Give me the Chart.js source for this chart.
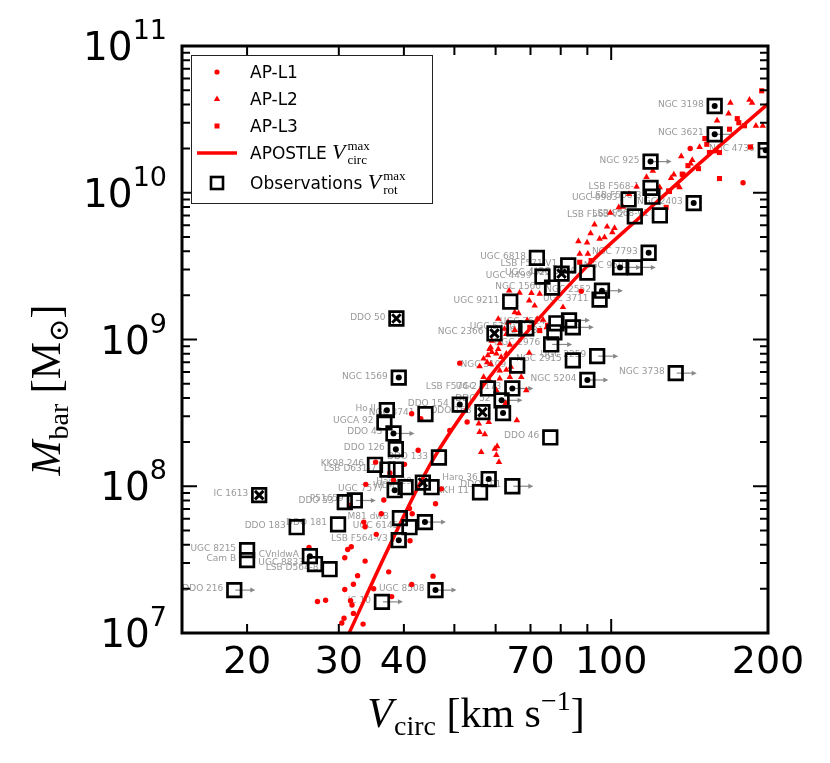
<!DOCTYPE html>
<html>
<head>
<meta charset="utf-8">
<script src="https://cdn.jsdelivr.net/npm/chart.js@4.4.1/dist/chart.umd.min.js"></script>
<style>
  html, body { margin: 0; padding: 0; background: #fff; }
  canvas { display: block; }
</style>
</head>
<body>
<canvas id="btf" width="830" height="763"></canvas>
<script>
// observed galaxies (Vrot max in km/s, baryonic mass in Msun)
const obsName = ['NGC 3198', 'NGC 3621', 'NGC 4736', 'NGC 925', 'LSB F568-1', 'LSB F568-3', 'UGC 6983', 'NGC 2403',
  'LSB F563-V2', 'LSB F568-V1', 'NGC 7793', '', 'NGC 959', 'UGC 5999', 'NGC 2552', 'UGC 3711', '', '',
  'UGC 2259', 'NGC 2915', 'NGC 5204', 'NGC 3738', 'UGC 6818', 'LSB F571-V1', 'UGC 4325', 'UGC 4499',
  'NGC 1560', 'UGC 9211', 'UGC 7524', 'UGC 731', 'NGC 2366', '', 'UGC 5750', 'NGC 2976', 'NGC 3109',
  'LSB F574-2', 'UGC 4173', 'DDO 52', 'DDO 154', 'DDO 168', '', 'NGC 3741', 'DDO 46', 'DDO 133', 'Haro 36',
  'KKH 11', 'DDO 101', 'Haro 29', '', 'WLM', 'UGC 7577', 'IC 1613', 'DDO 53', 'P51659', 'DDO 181', 'DDO 183',
  'UGC 8215', 'Cam B', 'CVnIdwA', 'UGC 8833', 'LSB D564-8', 'DDO 216', 'IC 10', 'UGC 8508', '', 'M81 dwB',
  'UGC 6145', 'LSB F564-V3', 'KK98 246', 'LSB D631-7', '', 'DDO 50', 'NGC 1569', 'Ho II', 'UGCA 92', 'DDO 43', 'DDO 126'];
const obsV = [158, 158, 198, 119, 119, 120, 108, 144,
  111, 124, 118, 104, 111, 90, 96, 95, 83, 84.4,
  94, 84.4, 90, 133, 72, 82.7, 80.3, 73.8,
  77, 64, 78.5, 77.8, 59.7, 65.2, 68.7, 76.7, 66,
  58, 64.6, 61.6, 51.2, 56.6, 62, 44, 76.4, 46.7, 58.2,
  56, 64.6, 43.5, 45.2, 40.3, 38.4, 21.1, 30.8, 32.2, 29.9, 24.9,
  20, 20, 26.4, 27, 28.8, 18.9, 36.3, 46, 43.9, 39.3,
  41, 39.1, 35.2, 37.2, 38.6, 38.7, 39.1, 37.1, 36.7, 38.2, 38.6];
const obsM = [3.9e10, 2.5e10, 1.95e10, 1.63e10, 1.08e10, 9.4e9, 9.0e9, 8.5e9,
  6.9e9, 7.0e9, 3.9e9, 3.1e9, 3.1e9, 2.86e9, 2.15e9, 1.87e9, 1.35e9, 1.21e9,
  7.7e8, 7.2e8, 5.3e8, 5.9e8, 3.6e9, 3.2e9, 2.81e9, 2.68e9,
  2.26e9, 1.81e9, 1.29e9, 1.12e9, 1.1e9, 1.19e9, 1.19e9, 9.25e8, 6.65e8,
  4.64e8, 4.64e8, 3.85e8, 3.6e8, 3.2e8, 3.15e8, 3.1e8, 2.15e8, 1.57e8, 1.12e8,
  9.1e7, 1.0e8, 1.06e8, 9.85e7, 9.85e7, 9.4e7, 8.7e7, 7.8e7, 8.0e7, 5.5e7, 5.26e7,
  3.67e7, 3.14e7, 3.34e7, 2.95e7, 2.72e7, 1.96e7, 1.63e7, 1.96e7, 5.7e7, 6.06e7,
  5.26e7, 4.29e7, 1.4e8, 1.3e8, 1.3e8, 1.39e9, 5.5e8, 3.3e8, 2.72e8, 2.29e8, 1.79e8];
const obsMark = ['dot', 'dot', 'dot', 'dot', '', '', '', 'dot',
  '', '', 'dot', 'dot', '', '', 'dot', '', '', '',
  '', '', 'dot', '', '', '', 'x', '',
  '', '', '', '', 'x', '', '', '', '',
  '', 'dot', 'dot', 'dot', 'x', 'dot', '', '', '', 'dot',
  '', '', 'x', '', '', 'dot', 'x', '', '', '', '',
  '', '', 'dot', '', '', '', '', 'dot', 'dot', '',
  '', 'dot', '', '', '', 'x', 'dot', 'dot', '', 'dot', 'dot'];
const obsArrow = [0, 1, 0, 1, 0, 0, 0, 0,
  0, 0, 0, 1, 1, 0, 1, 0, 1, 1,
  1, 0, 1, 1, 0, 0, 0, 0,
  0, 0, 0, 0, 0, 0, 0, 1, 0,
  0, 1, 1, 0, 0, 0, 0, 0, 0, 0,
  0, 1, 0, 0, 0, 0, 0, 0, 1, 0, 0,
  0, 0, 0, 0, 0, 1, 1, 1, 1, 0,
  0, 0, 0, 0, 0, 0, 0, 0, 0, 1, 0];

// APOSTLE galaxies, three resolution levels
const l1V = [141.8, 179.1, 87.6, 51.2, 49, 52.9, 41.4, 43.1, 42.6, 40.1, 47.2, 46, 41,
  35.3, 37.6, 38.2, 33.8, 31.5, 33.7, 36.6, 36.2, 41.5, 33.5, 35.4, 41.1, 31.2, 31.7, 30.8,
  33.7, 37.4, 32.6, 32, 30.8, 35, 37.9, 41.4, 45.5, 27.3, 28.3, 31.6, 31.8, 32, 30.7, 30.4, 33.4, 26.3];
const l1M = [2.0e10, 1.17e10, 2.13e9, 6.9e8, 2.4e8, 2.74e8, 3.12e8, 2.89e8, 1.76e8, 1.41e8, 9.6e7, 7.6e7, 7.05e7,
  1.46e8, 1.23e8, 1.1e8, 1.03e8, 7.4e7, 5.3e7, 8.05e7, 6.5e7, 6.5e7, 5.7e7, 4.7e7, 4.25e7, 3.71e7, 3.87e7, 3.26e7,
  3.09e7, 2.61e7, 2.46e7, 2.15e7, 1.98e7, 2.0e7, 1.77e7, 2.14e7, 2.44e7, 1.64e7, 1.67e7, 1.66e7, 1.55e7, 1.36e7, 1.26e7, 1.17e7, 1.15e7, 3.83e7];

const l2V = [169.4, 184.3, 186.4, 168, 159.7, 189.6, 195.4, 147.8, 136.3, 143.1, 142, 131.9, 130.3, 135.3, 123.9, 120.2, 134.2,
  105.3, 98.2, 101.5, 100.5, 91.3, 86.5, 89.9, 95, 97.1, 87, 90.2, 80.8, 103.4,
  92.9, 99.6, 108.2, 111.9, 116.9,
  63.7, 66.7, 70.3, 72.9, 69.6, 71.3, 65.3, 66.4, 60.7, 63.4, 69, 72.1, 74, 75.2, 62.4, 62.9, 65.3,
  59, 61.1, 60.7, 58.4, 59, 56.9, 57.8, 55.9, 58.7, 61.5, 61.1, 63.9, 67.2, 56.9, 61.1,
  55.9, 57.2, 56.3, 59.8, 60.4, 60.2, 60.9, 65.9, 58.2, 55.7, 62.7, 68.7, 64.2, 62.9, 58.4, 60.2,
  69.6, 58.7, 62.9, 58, 60.2, 63.9];
const l2M = [4.1e10, 4.3e10, 4.1e10, 3.46e10, 3.1e10, 2.86e10, 2.86e10, 2.05e10, 1.77e10, 1.67e10, 1.58e10, 1.33e10, 1.26e10, 1.09e10, 1.09e10, 1.41e10, 1.12e10,
  8.0e9, 5.87e9, 5.75e9, 5.38e9, 5.29e9, 4.66e9, 4.58e9, 4.85e9, 4.97e9, 3.83e9, 3.83e9, 1.66e9, 7.95e9,
  6.06e9, 7.3e9, 9.8e9, 1.1e10, 1.28e10,
  2.15e9, 2.08e9, 2.07e9, 2.05e9, 1.84e9, 1.7e9, 1.53e9, 1.51e9, 1.38e9, 1.31e9, 1.35e9, 1.38e9, 1.36e9, 1.21e9, 1.18e9, 1.09e9, 1.16e9,
  9.8e8, 9.4e8, 8.6e8, 8.6e8, 8.2e8, 7.4e8, 7.0e8, 6.55e8, 6.8e8, 7.6e8, 6.15e8, 5.54e8, 5.54e8, 5.54e8, 5.41e8,
  2.34e8, 2.26e8, 1.71e8, 1.8e8, 1.87e8, 1.63e8, 1.46e8, 2.81e8, 2.74e8, 2.67e8, 3.69e8, 4.5e8, 6.5e8, 6.2e8, 5.26e8, 4.5e8,
  8.1e8, 8.85e8, 8.0e8, 7.8e8, 8.0e8, 9.2e8];

const l3V = [174.6, 175.8, 180.3, 168.7, 151.3, 152.6, 161.4, 159, 154.4, 140.4, 147.1, 136.9, 128.9, 161.4, 185.1, 194.5,
  137.3, 129.4, 127.5, 87, 91.5, 72.9, 69.8, 75.5];
const l3M = [3.2e10, 3.0e10, 2.86e10, 2.71e10, 2.34e10, 2.14e10, 1.88e10, 1.93e10, 1.88e10, 1.53e10, 1.46e10, 1.34e10, 1.03e10, 1.25e10, 2.05e10, 4.95e10,
  1.33e10, 1.02e10, 7.95e9, 3.36e9, 3.45e9, 1.15e9, 1.21e9, 1.25e9];

// APOSTLE median relation
const fitV = [31.4, 37.6, 45.4, 55.9, 66.8, 90.9, 113.3, 147.6, 200];
const fitM = [1e7, 3.97e7, 1.5e8, 4.5e8, 9.9e8, 3.29e9, 6.75e9, 1.58e10, 4.03e10];

// axis ticks
const xTicks = [20, 30, 40, 50, 60, 70, 80, 90, 100, 200];
const xTickLabels = ['20', '30', '40', '', '', '70', '', '', '100', '200'];
const yDecades = [7, 8, 9, 10, 11];

const pts = (xs, ys) => xs.map((v, i) => ({x: v, y: ys[i]}));
const obsPts = pts(obsV, obsM);

const RED = '#ff0000';
const SERIF = '"Liberation Serif", "DejaVu Serif", serif';
const SANS = '"DejaVu Sans", sans-serif';

// draws a run of [text, font, dy, gap] pieces starting at x, returns end x
function drawRun(ctx, parts, x, y) {
  parts.forEach(p => {
    ctx.font = p[1];
    ctx.fillText(p[0], x, y + (p[2] || 0));
    x += ctx.measureText(p[0]).width + (p[3] || 0);
  });
  return x;
}
function runWidth(ctx, parts) {
  let w = 0;
  parts.forEach(p => { ctx.font = p[1]; w += ctx.measureText(p[0]).width + (p[3] || 0); });
  return w;
}

const deco = {
  id: 'deco',
  beforeDatasetsDraw(chart) {
    const {ctx, chartArea: a, scales: {x, y}} = chart;
    ctx.save();
    ctx.beginPath();
    ctx.rect(a.left, a.top, a.right - a.left, a.bottom - a.top);
    ctx.clip();
    ctx.font = '9px ' + SANS;
    ctx.textAlign = 'right';
    ctx.textBaseline = 'alphabetic';
    obsName.forEach((n, i) => {
      const px = x.getPixelForValue(obsV[i]);
      const py = y.getPixelForValue(obsM[i]);
      if (n) {
        ctx.fillStyle = '#999';
        ctx.fillText(n, px - 11, py + 1);
      }
      if (obsArrow[i]) {
        ctx.strokeStyle = '#888';
        ctx.fillStyle = '#888';
        ctx.lineWidth = 1.2;
        ctx.beginPath();
        ctx.moveTo(px + 1, py);
        ctx.lineTo(px + 17, py);
        ctx.stroke();
        ctx.beginPath();
        ctx.moveTo(px + 21, py);
        ctx.lineTo(px + 16, py - 2.5);
        ctx.lineTo(px + 16, py + 2.5);
        ctx.closePath();
        ctx.fill();
      }
    });
    ctx.restore();
  },
  afterDraw(chart) {
    const {ctx, chartArea: a, scales: {x, y}} = chart;
    ctx.save();
    ctx.strokeStyle = '#000';
    ctx.lineWidth = 2;
    ctx.beginPath();
    // x ticks, bottom and top
    xTicks.forEach(v => {
      const px = x.getPixelForValue(v);
      const len = v === 100 || v === 200 ? 14 : 9;
      ctx.moveTo(px, a.bottom); ctx.lineTo(px, a.bottom - len);
      ctx.moveTo(px, a.top); ctx.lineTo(px, a.top + len);
    });
    // y ticks, left and right
    yDecades.forEach(d => {
      for (let m = 1; m <= 9; m++) {
        const v = m * Math.pow(10, d);
        if (v > 1e11) break;
        const py = y.getPixelForValue(v);
        const len = m === 1 ? 15 : 8;
        ctx.moveTo(a.left, py); ctx.lineTo(a.left + len, py);
        ctx.moveTo(a.right, py); ctx.lineTo(a.right - len, py);
      }
    });
    ctx.stroke();
    // frame
    ctx.lineWidth = 3;
    ctx.strokeRect(a.left, a.top, a.right - a.left, a.bottom - a.top);

    // x tick labels
    ctx.fillStyle = '#000';
    ctx.textAlign = 'center';
    ctx.textBaseline = 'alphabetic';
    ctx.font = '38px ' + SANS;
    xTicks.forEach((v, i) => {
      if (xTickLabels[i]) ctx.fillText(xTickLabels[i], x.getPixelForValue(v), 673);
    });
    // y tick labels 10^n
    ctx.textAlign = 'left';
    yDecades.forEach(d => {
      const py = y.getPixelForValue(Math.pow(10, d));
      ctx.font = '39px ' + SANS;
      const wb = ctx.measureText('10').width;
      ctx.font = '27px ' + SANS;
      const we = ctx.measureText(String(d)).width;
      const x0 = 167 - we - wb;
      ctx.font = '39px ' + SANS;
      ctx.fillText('10', x0, py + 14);
      ctx.font = '27px ' + SANS;
      ctx.fillText(String(d), x0 + wb, py - 7);
    });

    // x axis title
    const big = '42px ' + SERIF, bigI = 'italic 42px ' + SERIF, sub = '28px ' + SERIF;
    const xt = [['V', bigI, 0, 1], ['circ', sub, 8, 0], [' [km s', big, 0, 0], ['\u22121', sub, -17, 0], [']', big, 0, 0]];
    const xw = runWidth(ctx, xt);
    drawRun(ctx, xt, 476 - xw / 2, 727);

    // y axis title
    ctx.save();
    ctx.translate(60, 390);
    ctx.rotate(-Math.PI / 2);
    const yt = [['M', bigI, 0, 1], ['bar', sub, 8, 0], [' [M', big, 0, 0], ['\u2299', sub, 8, 0], [']', big, 0, 0]];
    const yw = runWidth(ctx, yt);
    drawRun(ctx, yt, -yw / 2, 0);
    ctx.restore();

    // legend
    const lx = 191, ly = 55, lw = 241, lh = 148, mx = 217, tx = 250;
    const rows = [72, 99, 126, 153, 183];
    ctx.fillStyle = '#fff';
    ctx.fillRect(lx, ly, lw, lh);
    ctx.strokeStyle = '#222';
    ctx.lineWidth = 1;
    ctx.strokeRect(lx + 0.5, ly + 0.5, lw, lh);
    ctx.fillStyle = RED;
    ctx.beginPath(); ctx.arc(mx, rows[0], 2.6, 0, Math.PI * 2); ctx.fill();
    ctx.beginPath();
    ctx.moveTo(mx, rows[1] - 3.6); ctx.lineTo(mx + 3.2, rows[1] + 2); ctx.lineTo(mx - 3.2, rows[1] + 2);
    ctx.closePath(); ctx.fill();
    ctx.fillRect(mx - 2.5, rows[2] - 2.5, 5, 5);
    ctx.strokeStyle = RED; ctx.lineWidth = 3.5;
    ctx.beginPath(); ctx.moveTo(197, rows[3]); ctx.lineTo(237, rows[3]); ctx.stroke();
    ctx.strokeStyle = '#000'; ctx.lineWidth = 2.6;
    ctx.strokeRect(mx - 6, rows[4] - 6, 12, 12);

    ctx.fillStyle = '#000';
    ctx.font = '17px ' + SANS;
    ctx.fillText('AP-L1', tx, rows[0] + 6);
    ctx.fillText('AP-L2', tx, rows[1] + 6);
    ctx.fillText('AP-L3', tx, rows[2] + 6);
    const supSub = (x0, yb, top, bot) => {
      ctx.font = '13px ' + SERIF;
      ctx.fillText(top, x0, yb - 9);
      ctx.fillText(bot, x0, yb + 5);
    };
    let ex = drawRun(ctx, [['APOSTLE ', '17px ' + SANS, 0, 0], ['V', 'italic 22px ' + SERIF, 0, 2]], tx, rows[3] + 6);
    supSub(ex, rows[3] + 6, 'max', 'circ');
    ex = drawRun(ctx, [['Observations ', '17px ' + SANS, 0, 0], ['V', 'italic 22px ' + SERIF, 0, 2]], tx, rows[4] + 6);
    supSub(ex, rows[4] + 6, 'max', 'rot');
    ctx.restore();
  }
};

new Chart(document.getElementById('btf'), {
  type: 'scatter',
  data: {
    datasets: [
      {
        label: 'APOSTLE', data: pts(fitV, fitM), showLine: true, order: 3,
        borderColor: RED, borderWidth: 3.5, pointRadius: 0, tension: 0.35, clip: 0
      },
      {
        label: 'AP-L1', data: pts(l1V, l1M), order: 4, pointStyle: 'circle',
        pointRadius: 2.7, backgroundColor: RED, borderWidth: 0, clip: 0
      },
      {
        label: 'AP-L2', data: pts(l2V, l2M), order: 4, pointStyle: 'triangle',
        pointRadius: 3.8, backgroundColor: RED, borderColor: RED, borderWidth: 0, clip: 0
      },
      {
        label: 'AP-L3', data: pts(l3V, l3M), order: 4, pointStyle: 'rect',
        pointRadius: 3.6, backgroundColor: RED, borderWidth: 0, clip: 0
      },
      {
        label: 'Observations', data: obsPts, order: 1, pointStyle: 'rect',
        pointRadius: 9.6, backgroundColor: 'rgba(0,0,0,0)', borderColor: '#000', borderWidth: 2.7, clip: 0
      },
      {
        label: 'dot', data: obsPts.filter((p, i) => obsMark[i] === 'dot'), order: 0, pointStyle: 'circle',
        pointRadius: 3, backgroundColor: '#000', borderWidth: 0, clip: 0
      },
      {
        label: 'cross', data: obsPts.filter((p, i) => obsMark[i] === 'x'), order: 0, pointStyle: 'crossRot',
        pointRadius: 6, borderColor: '#000', borderWidth: 3, clip: 0
      }
    ]
  },
  options: {
    responsive: false,
    animation: false,
    devicePixelRatio: 1,
    events: [],
    layout: {padding: {left: 182, top: 46, right: 62, bottom: 130}},
    plugins: {legend: {display: false}, tooltip: {enabled: false}},
    scales: {
      x: {type: 'logarithmic', min: 15, max: 200, display: false},
      y: {type: 'logarithmic', min: 1e7, max: 1e11, display: false}
    }
  },
  plugins: [deco]
});
</script>
</body>
</html>
